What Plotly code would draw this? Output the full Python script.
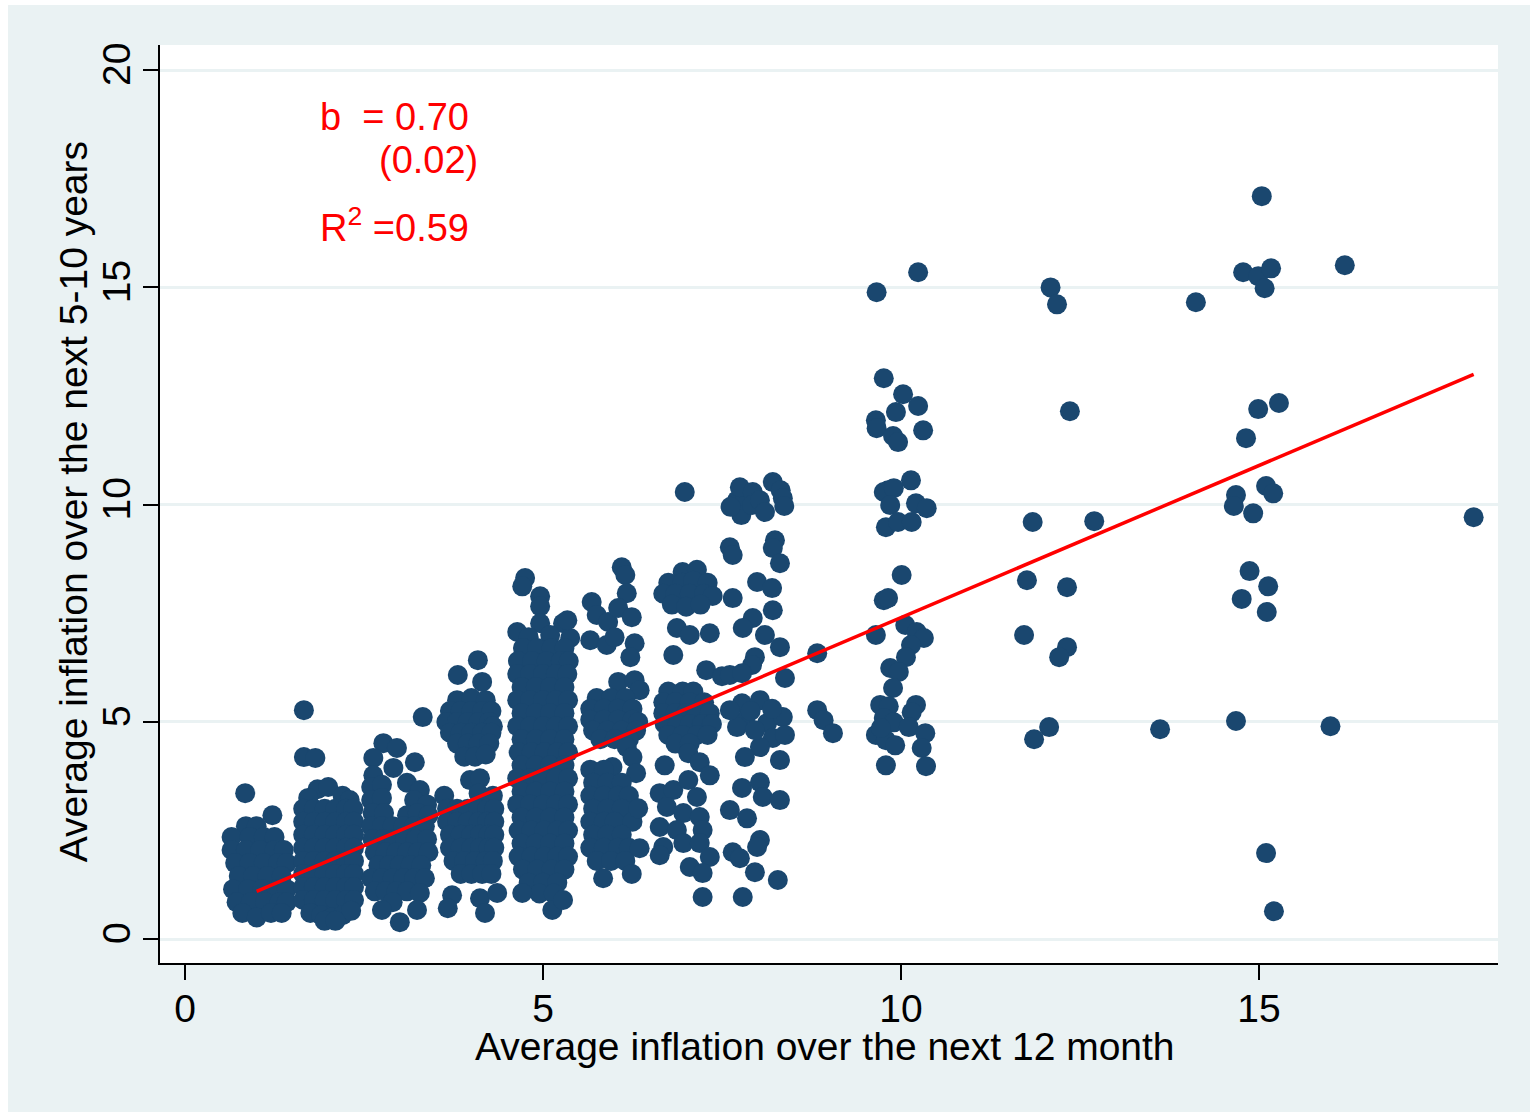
import plotly.graph_objects as go

# ---- scatter data (x = avg inflation next 12 months, y = avg inflation next 5-10 years) ----
cluster_a = [
    (0.84, 3.36), (1.22, 2.85),
    (0.85, 2.6), (1.0, 2.6),
    (0.65, 2.35), (0.9, 2.35), (1.1, 2.35), (1.25, 2.35),
    (0.65, 2.05), (0.85, 2.05), (1.05, 2.05), (1.25, 2.05), (1.38, 2.05),
    (0.7, 1.75), (0.9, 1.75), (1.1, 1.75), (1.3, 1.75), (1.42, 1.75),
    (0.75, 1.45), (0.95, 1.45), (1.15, 1.45), (1.35, 1.45),
    (0.67, 1.15), (0.88, 1.15), (1.08, 1.15), (1.28, 1.15), (1.42, 1.15),
    (0.72, 0.85), (0.92, 0.85), (1.12, 0.85), (1.32, 0.85), (1.42, 0.85),
    (0.8, 0.6), (1.0, 0.5), (1.2, 0.6), (1.35, 0.6),
]

cluster_b = [
    (1.66, 5.27), (1.66, 4.19), (1.82, 4.17),
    (1.85, 3.45), (2.0, 3.5), (2.2, 3.3), (2.3, 3.2), (1.72, 3.25),
    (1.65, 3.0), (1.8, 3.0), (1.95, 3.0), (2.1, 3.0), (2.25, 3.0), (2.35, 3.0),
    (1.65, 2.7), (1.8, 2.7), (1.95, 2.7), (2.1, 2.7), (2.25, 2.7), (2.36, 2.7),
    (1.65, 2.4), (1.8, 2.4), (1.95, 2.4), (2.1, 2.4), (2.25, 2.4), (2.36, 2.4),
    (1.65, 2.1), (1.8, 2.1), (1.95, 2.1), (2.1, 2.1), (2.25, 2.1), (2.36, 2.1),
    (1.65, 1.8), (1.8, 1.8), (1.95, 1.8), (2.1, 1.8), (2.25, 1.8), (2.36, 1.8),
    (1.65, 1.5), (1.8, 1.5), (1.95, 1.5), (2.1, 1.5), (2.25, 1.5), (2.36, 1.5),
    (1.65, 1.2), (1.8, 1.2), (1.95, 1.2), (2.1, 1.2), (2.25, 1.2), (2.36, 1.2),
    (1.65, 0.9), (1.8, 0.9), (1.95, 0.9), (2.1, 0.9), (2.25, 0.9), (2.36, 0.9),
    (1.75, 0.6), (1.9, 0.55), (2.05, 0.5), (2.2, 0.55), (2.32, 0.65),
    (1.95, 0.42), (2.1, 0.42),
]

cluster_c = [
    (2.77, 4.51), (2.96, 4.4), (2.63, 4.17), (3.21, 4.07), (2.63, 3.77), (2.91, 3.94), (3.32, 5.11),
    (2.6, 3.5), (2.75, 3.55), (3.1, 3.6), (3.28, 3.43),
    (2.6, 3.2), (2.75, 3.25), (3.2, 3.2), (3.38, 3.1),
    (2.62, 2.9), (2.78, 2.9), (3.1, 2.85), (3.25, 2.9), (3.4, 2.85),
    (2.6, 2.6), (2.75, 2.6), (2.9, 2.6), (3.05, 2.6), (3.2, 2.6), (3.35, 2.6),
    (2.62, 2.3), (2.77, 2.3), (2.92, 2.3), (3.07, 2.3), (3.22, 2.3), (3.38, 2.3),
    (2.65, 2.0), (2.8, 2.0), (2.95, 2.0), (3.1, 2.0), (3.25, 2.0), (3.4, 2.0),
    (2.7, 1.7), (2.85, 1.7), (3.0, 1.7), (3.15, 1.7), (3.3, 1.7),
    (2.6, 1.4), (2.75, 1.4), (2.9, 1.4), (3.05, 1.4), (3.2, 1.4), (3.35, 1.4),
    (2.65, 1.1), (2.8, 1.1), (2.95, 1.1), (3.1, 1.1), (3.28, 1.06),
    (2.9, 0.85), (2.75, 0.67), (3.0, 0.39), (3.24, 0.67),
]

cluster_d = [
    (4.09, 6.42), (3.81, 6.08), (4.15, 5.92),
    (3.8, 5.5), (4.0, 5.55), (4.2, 5.5),
    (3.7, 5.25), (3.85, 5.25), (4.0, 5.25), (4.15, 5.25), (4.28, 5.25),
    (3.65, 5.0), (3.8, 5.0), (3.95, 5.0), (4.1, 5.0), (4.25, 5.0), (4.3, 4.9),
    (3.7, 4.75), (3.85, 4.75), (4.0, 4.75), (4.15, 4.75), (4.28, 4.75),
    (3.8, 4.5), (3.95, 4.5), (4.1, 4.5), (4.25, 4.5),
    (3.9, 4.2), (4.05, 4.2), (4.2, 4.25),
    (3.98, 3.66), (4.12, 3.7),
    (3.62, 3.3), (4.1, 3.35), (4.3, 3.3),
    (3.66, 3.0), (3.8, 3.0), (3.95, 3.0), (4.1, 3.0), (4.22, 3.0), (4.32, 3.0),
    (3.66, 2.7), (3.8, 2.7), (3.95, 2.7), (4.1, 2.7), (4.22, 2.7), (4.32, 2.7),
    (3.7, 2.4), (3.85, 2.4), (4.0, 2.4), (4.12, 2.4), (4.24, 2.4), (4.32, 2.4),
    (3.7, 2.1), (3.85, 2.1), (4.0, 2.1), (4.12, 2.1), (4.24, 2.1), (4.32, 2.1),
    (3.75, 1.8), (3.9, 1.8), (4.05, 1.8), (4.2, 1.8), (4.3, 1.8),
    (3.85, 1.5), (4.0, 1.5), (4.15, 1.5), (4.28, 1.5),
    (3.73, 1.01), (3.67, 0.71), (4.12, 0.94), (4.36, 1.06), (4.19, 0.6),
]

cluster_e = [
    (4.75, 8.31), (4.71, 8.12), (4.96, 7.89), (4.96, 7.66), (4.64, 7.07), (4.96, 7.27),
    (5.28, 7.27), (5.38, 6.93), (5.34, 7.34), (4.8, 6.95), (5.1, 7.0),
    (4.72, 6.7), (4.92, 6.7), (5.12, 6.7), (5.3, 6.7),
    (4.65, 6.4), (4.85, 6.4), (5.05, 6.4), (5.25, 6.4), (5.36, 6.4),
    (4.64, 6.1), (4.82, 6.1), (5.0, 6.1), (5.18, 6.1), (5.34, 6.1),
    (4.7, 5.8), (4.9, 5.8), (5.1, 5.8), (5.3, 5.8),
    (4.64, 5.5), (4.82, 5.5), (5.0, 5.5), (5.18, 5.5), (5.35, 5.5),
    (4.7, 5.2), (4.9, 5.2), (5.1, 5.2), (5.3, 5.2),
    (4.64, 4.9), (4.82, 4.9), (5.0, 4.9), (5.18, 4.9), (5.35, 4.9),
    (4.7, 4.6), (4.9, 4.6), (5.1, 4.6), (5.3, 4.6),
    (4.66, 4.3), (4.84, 4.3), (5.02, 4.3), (5.2, 4.3), (5.35, 4.3),
    (4.7, 4.0), (4.9, 4.0), (5.1, 4.0), (5.3, 4.0),
    (4.64, 3.7), (4.82, 3.7), (5.0, 3.7), (5.18, 3.7), (5.35, 3.7),
    (4.7, 3.4), (4.9, 3.4), (5.1, 3.4), (5.3, 3.4),
    (4.64, 3.1), (4.82, 3.1), (5.0, 3.1), (5.18, 3.1), (5.35, 3.1),
    (4.7, 2.8), (4.9, 2.8), (5.1, 2.8), (5.3, 2.8),
    (4.66, 2.5), (4.84, 2.5), (5.02, 2.5), (5.2, 2.5), (5.35, 2.5),
    (4.7, 2.2), (4.9, 2.2), (5.1, 2.2), (5.3, 2.2),
    (4.66, 1.9), (4.84, 1.9), (5.02, 1.9), (5.2, 1.9), (5.35, 1.9),
    (4.72, 1.6), (4.92, 1.6), (5.12, 1.6), (5.3, 1.6),
    (4.8, 1.3), (5.0, 1.3), (5.2, 1.3),
    (4.95, 1.05), (5.15, 1.05),
    (4.71, 1.06), (5.13, 0.67), (5.28, 0.9),
]

cluster_f = [
    (6.1, 8.56), (6.15, 8.38), (6.17, 7.96), (5.68, 7.76), (5.75, 7.46), (5.91, 7.3),
    (6.05, 7.62), (6.24, 7.41), (5.66, 6.88), (5.89, 6.77), (6.0, 6.95), (6.28, 6.81),
    (6.22, 6.49), (6.05, 5.92), (6.28, 5.96), (6.35, 5.73),
    (5.75, 5.55), (5.95, 5.55), (6.15, 5.55),
    (5.66, 5.3), (5.85, 5.3), (6.05, 5.3), (6.25, 5.3),
    (5.66, 5.05), (5.85, 5.05), (6.05, 5.05), (6.25, 5.05), (6.33, 5.0),
    (5.7, 4.8), (5.9, 4.8), (6.1, 4.8), (6.3, 4.8),
    (5.8, 4.6), (6.0, 4.6), (6.2, 4.6),
    (6.17, 4.42), (6.25, 4.19), (6.3, 3.82), (5.97, 3.96),
    (5.66, 3.9), (5.85, 3.9),
    (5.7, 3.6), (5.9, 3.6), (6.1, 3.6),
    (5.66, 3.3), (5.85, 3.3), (6.05, 3.3), (6.2, 3.3),
    (5.7, 3.0), (5.9, 3.0), (6.1, 3.0),
    (5.66, 2.7), (5.85, 2.7), (6.0, 2.7), (6.25, 2.7),
    (5.7, 2.4), (5.9, 2.4), (6.1, 2.4),
    (5.66, 2.1), (5.85, 2.1), (6.05, 2.1), (6.2, 2.1),
    (5.75, 1.8), (5.95, 1.8), (6.15, 1.8),
    (5.84, 1.4), (6.24, 1.5),
]

cluster_g = [
    (6.98, 10.29),
    (6.95, 8.45), (7.15, 8.5), (6.75, 8.2), (6.95, 8.2), (7.1, 8.25), (7.3, 8.2),
    (6.68, 7.95), (6.85, 7.95), (7.05, 7.95), (7.25, 7.95), (7.37, 7.9),
    (6.8, 7.7), (7.0, 7.65), (7.2, 7.7),
    (6.87, 7.16), (7.05, 7.0), (7.33, 7.04), (6.82, 6.54), (7.28, 6.19), (7.5, 6.05),
    (6.75, 5.7), (6.95, 5.7), (7.1, 5.7),
    (6.68, 5.45), (6.85, 5.45), (7.05, 5.45), (7.25, 5.45),
    (6.68, 5.2), (6.85, 5.2), (7.0, 5.2), (7.15, 5.2), (7.33, 5.2),
    (6.7, 4.95), (6.88, 4.95), (7.05, 4.95), (7.22, 4.95), (7.36, 4.95),
    (6.75, 4.7), (6.95, 4.7), (7.15, 4.7), (7.3, 4.7),
    (6.85, 4.5), (7.05, 4.5),
    (6.7, 4.0), (7.03, 4.28), (7.19, 4.07), (7.33, 3.77),
    (6.63, 3.36), (6.82, 3.43), (7.03, 3.66), (7.15, 3.27), (6.73, 3.04), (6.96, 2.9),
    (7.19, 2.81), (6.63, 2.58), (6.87, 2.51), (7.23, 2.51), (6.68, 2.12), (6.96, 2.21),
    (7.19, 2.21), (7.33, 1.89), (7.05, 1.66), (7.23, 1.52), (6.63, 1.93), (6.35, 2.09),
    (6.33, 3.01), (7.23, 0.97),
]

cluster_h = [
    (7.71, 10.1), (7.75, 10.4), (7.77, 9.76), (7.93, 10.29), (7.92, 9.99), (8.03, 10.1),
    (8.1, 9.83), (8.21, 10.52), (8.32, 10.33), (8.35, 10.15), (8.37, 9.97), (7.62, 9.95),
    (8.24, 9.18), (8.21, 9.0), (7.61, 9.02), (7.65, 8.84), (8.31, 8.65),
    (7.99, 8.22), (8.2, 8.08), (7.65, 7.85), (8.21, 7.57), (7.93, 7.39), (7.79, 7.16),
    (8.1, 7.0), (8.31, 6.72), (7.96, 6.49), (7.92, 6.31), (7.61, 6.08), (7.78, 6.12),
    (8.38, 6.01),
    (7.78, 5.43), (8.03, 5.5), (7.82, 5.04), (8.13, 4.97), (8.35, 5.11), (8.21, 4.63),
    (8.03, 4.42), (7.82, 4.19), (8.31, 4.12), (7.71, 4.88), (7.61, 5.27), (7.96, 4.81),
    (8.38, 4.7), (7.9, 5.25), (8.2, 5.3),
    (7.78, 3.48), (8.03, 3.61), (8.07, 3.27), (8.31, 3.2), (7.61, 2.97), (7.85, 2.78),
    (8.03, 2.28), (7.99, 2.12), (7.65, 2.0), (7.75, 1.86), (7.96, 1.54), (8.28, 1.36),
    (7.79, 0.97),
]

cluster_right = [
    (8.83, 6.58), (8.83, 5.27), (8.92, 5.04), (9.05, 4.74),
    (9.66, 14.89), (10.24, 15.35), (9.76, 12.91), (10.03, 12.54), (10.24, 12.27),
    (9.93, 12.13), (9.65, 11.94), (9.66, 11.76), (9.89, 11.58), (9.96, 11.44),
    (10.31, 11.71), (10.14, 10.56), (9.82, 10.33), (9.76, 10.29), (9.9, 10.38),
    (9.85, 9.99), (10.21, 10.03), (10.36, 9.92), (9.79, 9.48), (9.96, 9.6),
    (10.15, 9.6), (10.01, 8.38), (9.76, 7.8), (9.82, 7.85), (9.65, 7.0),
    (10.06, 7.23), (10.22, 7.07), (10.32, 6.93), (10.14, 6.77), (10.07, 6.49),
    (9.85, 6.24), (9.97, 6.15), (9.89, 5.78), (9.71, 5.39), (9.83, 5.36),
    (10.21, 5.39), (10.15, 5.22), (9.76, 5.09), (9.9, 4.99), (9.65, 4.7),
    (10.11, 4.88), (10.34, 4.74), (9.79, 4.58), (9.92, 4.46), (10.29, 4.4),
    (9.79, 4.0), (10.35, 3.98), (9.72, 4.86),
    (12.09, 15.0), (12.18, 14.61), (14.12, 14.66), (15.04, 17.1), (14.78, 15.35),
    (14.99, 15.26), (15.17, 15.44), (15.08, 14.98), (16.2, 15.51),
    (12.36, 12.15), (14.99, 12.2), (15.28, 12.34), (14.82, 11.53),
    (11.84, 9.6), (12.7, 9.62), (14.68, 10.22), (14.65, 9.97), (15.1, 10.43),
    (15.2, 10.26), (14.92, 9.8), (18.0, 9.71),
    (11.76, 8.26), (12.32, 8.1), (14.87, 8.47), (15.13, 8.12), (14.76, 7.83),
    (15.11, 7.53), (11.72, 7.0), (12.32, 6.72), (12.21, 6.49),
    (12.07, 4.88), (11.86, 4.6), (13.62, 4.83), (14.68, 5.02), (16.0, 4.9),
    (15.1, 1.98), (15.21, 0.64),
]

# fitted regression line (read end points)
fit_x = [1.0, 18.0]
fit_y = [1.10, 13.0]

x_ticks = [0, 5, 10, 15]
y_ticks = [0, 5, 10, 15, 20]

x_title = "Average inflation over the next 12 month"
y_title = "Average inflation over the next 5-10 years"
label_b = "b\u00a0\u00a0= 0.70"
label_se = "(0.02)"
label_r2 = "R<sup>2</sup> =0.59"

points = (cluster_a + cluster_b + cluster_c + cluster_d + cluster_e +
          cluster_f + cluster_g + cluster_h + cluster_right)
xs = [p[0] for p in points]
ys = [p[1] for p in points]

FONT = "Liberation Sans, Arial, Helvetica, sans-serif"
BG = "#EAF2F3"
NAVY = "#1A476F"
RED = "#FF0000"

fig = go.Figure()
fig.add_trace(go.Scatter(
    x=xs, y=ys, mode="markers",
    marker=dict(color=NAVY, size=20, line=dict(width=0)),
    hoverinfo="skip", showlegend=False,
))
fig.add_trace(go.Scatter(
    x=fit_x, y=fit_y, mode="lines",
    line=dict(color=RED, width=3.5),
    hoverinfo="skip", showlegend=False,
))

fig.update_layout(
    width=1522, height=1107,
    margin=dict(l=152, r=32, t=40, b=149),
    paper_bgcolor=BG, plot_bgcolor="white",
    font=dict(family=FONT, size=39, color="black"),
    showlegend=False,
)

fig.update_xaxes(
    range=[-0.35, 18.34], tickvals=x_ticks,
    ticks="outside", ticklen=15, tickwidth=2, tickcolor="black",
    showline=True, linecolor="black", linewidth=2,
    showgrid=False, zeroline=False,
    tickfont=dict(size=39, family=FONT), ticklabelstandoff=-5,
)
fig.update_yaxes(
    range=[-0.55, 20.58], tickvals=y_ticks, tickangle=-90,
    ticks="outside", ticklen=15, tickwidth=2, tickcolor="black",
    showline=True, linecolor="black", linewidth=2,
    showgrid=True, gridcolor=BG, gridwidth=3, zeroline=False,
    tickfont=dict(size=39, family=FONT), ticklabelstandoff=-3,
)

# axis titles
fig.add_annotation(x=0.497, y=-0.0915, xref="paper", yref="paper", text=x_title,
                   showarrow=False, xanchor="center", yanchor="middle",
                   font=dict(size=39, family=FONT, color="black"))
fig.add_annotation(x=-0.065, y=0.502, xref="paper", yref="paper", text=y_title,
                   showarrow=False, xanchor="center", yanchor="middle", textangle=-90,
                   font=dict(size=39, family=FONT, color="black"))

for txt, ax, ay in [(label_b, 1.86, 18.92), (label_se, 2.68, 17.93), (label_r2, 1.86, 16.43)]:
    fig.add_annotation(
        x=ax, y=ay, xref="x", yref="y", text=txt, showarrow=False,
        xanchor="left", yanchor="middle",
        font=dict(color=RED, size=38, family=FONT),
    )

fig.write_html("out.html", post_script="document.body.style.margin='5px 0px 0px 8px';")
